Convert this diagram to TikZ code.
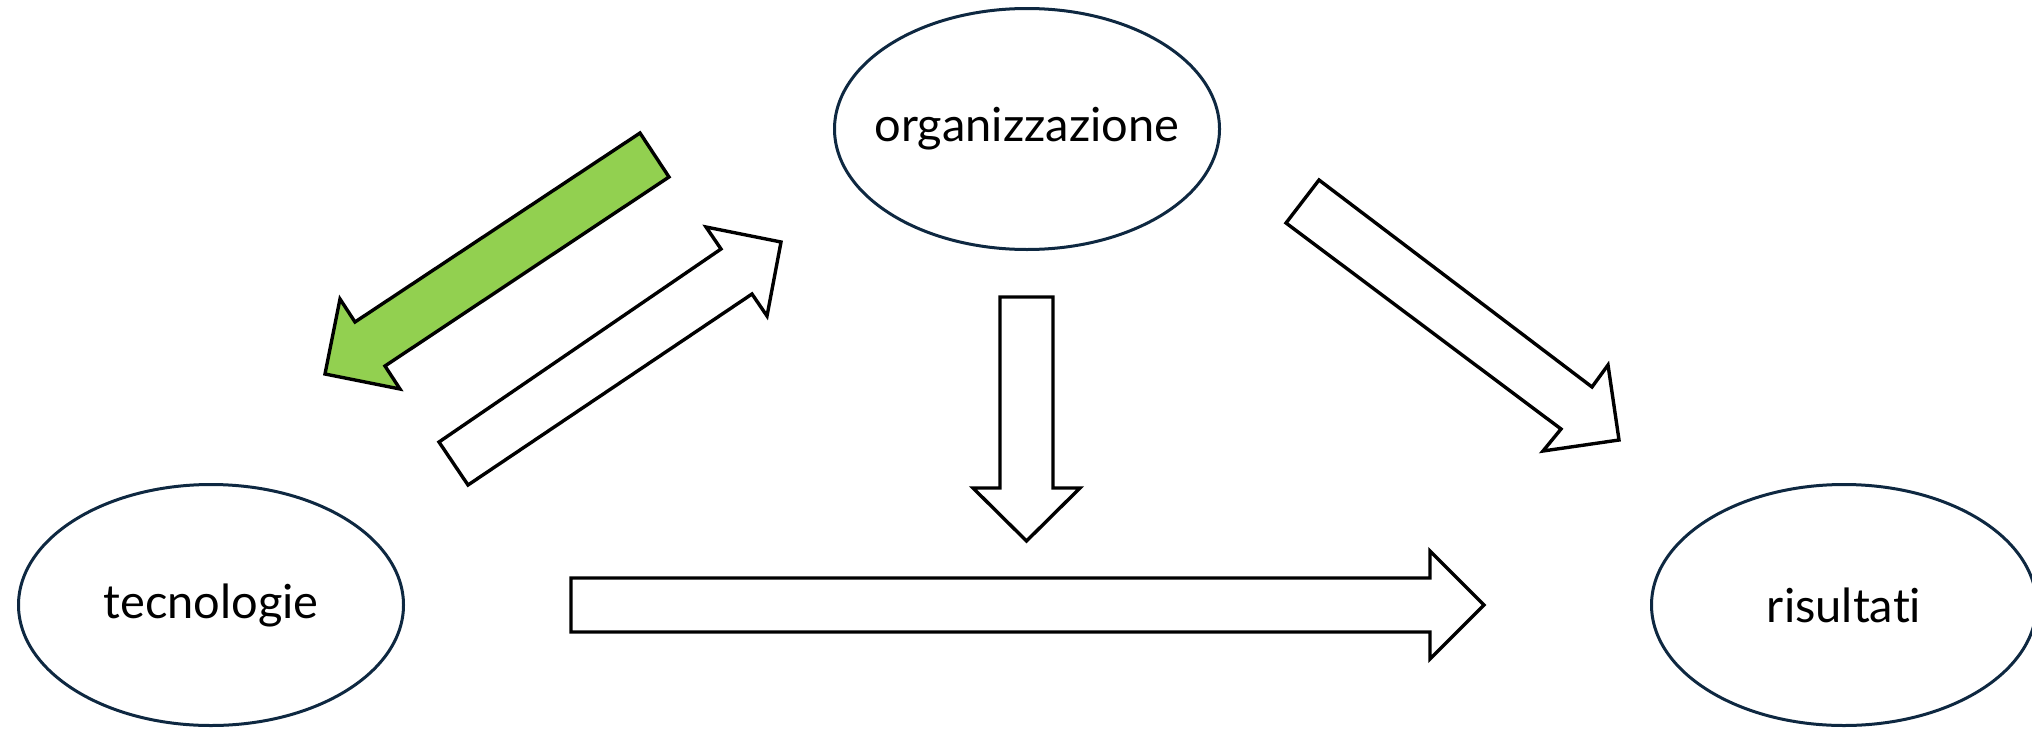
\documentclass[tikz,border=0pt]{standalone}
\usepackage{fontspec}
\setmainfont{Lato}[Ligatures={NoCommon}]
\usetikzlibrary{shapes.geometric}
\definecolor{ellline}{HTML}{0E2841}
\definecolor{arrgreen}{HTML}{92D050}
\tikzset{
  bubble/.style={ellipse, draw=ellline, line width=1.5pt, fill=white, inner sep=0pt,
    minimum width=192.5pt, minimum height=120.5pt,
    label={[bubbletext]center:#1}},
  bubbletext/.style={inner sep=0pt, font=\fontsize{23.5pt}{28pt}\selectfont},
  blockarrow/.style={draw=black, line width=1.7pt, line join=miter, fill=white},
}
\begin{document}
\begin{tikzpicture}[x=0.5pt,y=-0.5pt]
\useasboundingbox (0,0) rectangle (2032,728);
\node[bubble=organizzazione] (org) at (1027,129) {};
\node[bubble=tecnologie] (tec) at (211,605) {};
\node[bubble=risultati] (ris) at (1844,605) {};
% green arrow organizzazione -> tecnologie
\draw[blockarrow, fill=arrgreen] (640,133) -- (669,177) -- (385,366) -- (400,389) -- (325,374) -- (340,299) -- (355,322) -- cycle;
% white arrow tecnologie -> organizzazione
\draw[blockarrow] (439,442) -- (468,485) -- (752,294) -- (767,316) -- (781,242) -- (706,227) -- (721,249) -- cycle;
% organizzazione -> risultati
\draw[blockarrow] (1319,180) -- (1286,223) -- (1561,429) -- (1543,451) -- (1619,440) -- (1608,365) -- (1592,387) -- cycle;
% down arrow
\draw[blockarrow] (1000,297) -- (1053,297) -- (1053,488) -- (1080,488) -- (1026.5,541) -- (973,488) -- (1000,488) -- cycle;
% horizontal arrow
\draw[blockarrow] (571,578) -- (1430,578) -- (1430,551) -- (1484,605) -- (1430,659) -- (1430,632) -- (571,632) -- cycle;
\end{tikzpicture}
\end{document}
